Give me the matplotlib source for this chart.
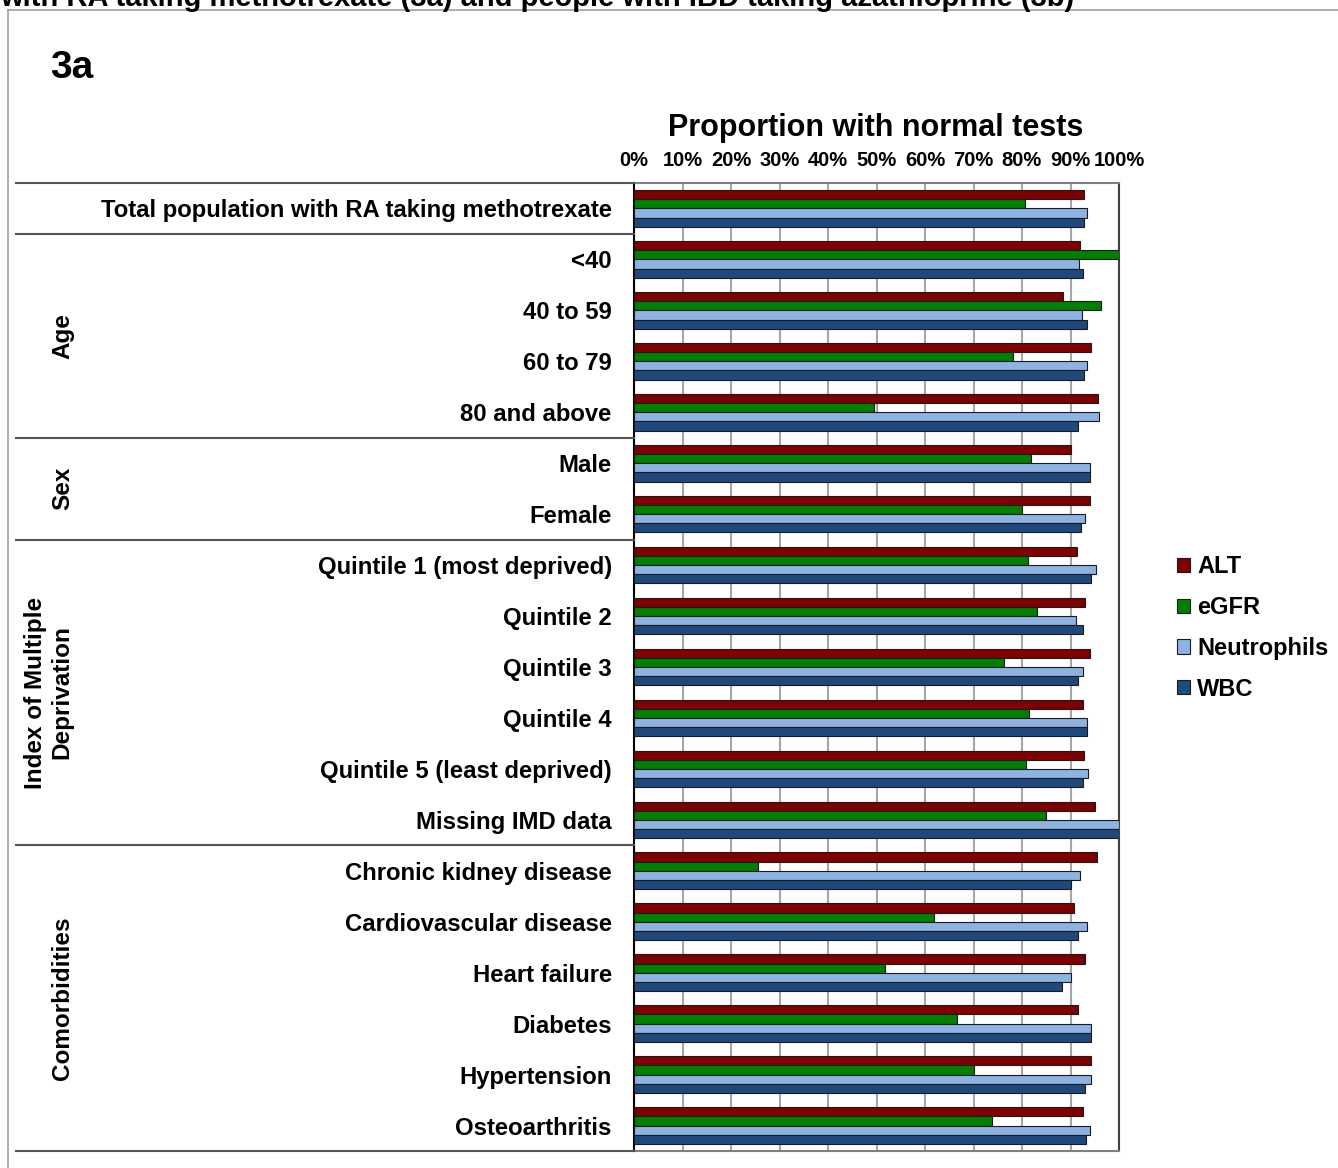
import matplotlib as mpl
mpl.use('Agg')
import matplotlib.pyplot as plt
import numpy as np
from matplotlib.lines import Line2D
from matplotlib.patches import Patch
from matplotlib.transforms import blended_transform_factory

plt.rcParams['font.family'] = ['Liberation Sans', 'DejaVu Sans']
plt.rcParams['font.weight'] = 'bold'

categories = ['Total population with RA taking methotrexate',
              '<40', '40 to 59', '60 to 79', '80 and above',
              'Male', 'Female',
              'Quintile 1 (most deprived)', 'Quintile 2', 'Quintile 3',
              'Quintile 4', 'Quintile 5 (least deprived)', 'Missing IMD data',
              'Chronic kidney disease', 'Cardiovascular disease', 'Heart failure',
              'Diabetes', 'Hypertension', 'Osteoarthritis']

# proportion with normal tests (%)
alt = [92.8, 92.0, 88.5, 94.3, 95.7, 90.1, 94.0, 91.3, 92.9, 94.0,
       92.5, 92.8, 95.0, 95.4, 90.7, 93.0, 91.5, 94.3, 92.5]
egfr = [80.6, 100.0, 96.2, 78.1, 49.4, 81.8, 79.9, 81.3, 83.1, 76.2,
        81.5, 80.8, 85.0, 25.5, 61.8, 51.8, 66.7, 70.1, 73.8]
neutrophils = [93.3, 91.8, 92.4, 93.3, 95.8, 94.0, 92.9, 95.3, 91.2, 92.6,
               93.4, 93.7, 100.0, 91.9, 93.5, 90.0, 94.2, 94.2, 94.1]
wbc = [92.8, 92.5, 93.5, 92.8, 91.6, 94.1, 92.1, 94.3, 92.6, 91.5,
       93.3, 92.6, 100.0, 90.0, 91.5, 88.2, 94.2, 92.9, 93.1]

series_names = ['ALT', 'eGFR', 'Neutrophils', 'WBC']
colors = ['#7f0000', '#008000', '#8db3e2', '#1f497d']

# groups: (label, first row, last row)
groups = [('Age', 1, 4), ('Sex', 5, 6),
          ('Index of Multiple\nDeprivation', 7, 12), ('Comorbidities', 13, 18)]
boundaries = [-0.5, 0.5, 4.5, 6.5, 12.5, 18.5]

W, H = 1338, 1168
fig = plt.figure(figsize=(W / 100, H / 100), dpi=100)
ax = fig.add_axes([634 / W, 1 - 1151 / H, 485 / W, 968 / H])

y = np.arange(len(categories))
bh = 0.18
for i, (vals, c) in enumerate(zip([alt, egfr, neutrophils, wbc], colors)):
    ax.barh(y + (i - 1.5) * bh, vals, height=bh, color=c,
            edgecolor='#1a1a1a', linewidth=0.8, zorder=3)

ax.set_xlim(0, 100)
ax.set_ylim(len(categories) - 0.5, -0.5)
ax.set_xticks(np.arange(0, 101, 10))
ax.set_xticklabels([f'{v}%' for v in range(0, 101, 10)], fontsize=14.5, fontweight='bold')
ax.xaxis.tick_top()
ax.tick_params(axis='x', length=0, pad=9)
ax.set_yticks(y)
ax.set_yticklabels(categories, fontsize=17.2, fontweight='bold')
ax.tick_params(axis='y', length=0, pad=16)
ax.grid(axis='x', color='#a6a6a6', linewidth=1.5, zorder=0)
for s in ['top', 'bottom']:
    ax.spines[s].set_color('#808080')
    ax.spines[s].set_linewidth(1.5)
ax.spines['right'].set_color('#404040')
ax.spines['right'].set_linewidth(1.5)
ax.spines['left'].set_color('#000000')
ax.spines['left'].set_linewidth(1.5)

# table lines and group labels on the left
tr = blended_transform_factory(fig.transFigure, ax.transData)
for b in boundaries:
    fig.add_artist(Line2D([16 / W, 634 / W], [b, b], transform=tr,
                          color='#555555', linewidth=1.5, clip_on=False))
for label, a, b in groups:
    xpos = 49 / W if '\n' in label else 63 / W
    fig.text(xpos, (a + b) / 2, label, transform=tr, rotation=90,
             ha='center', va='center', fontsize=17.5, fontweight='bold',
             family=['Liberation Sans', 'DejaVu Sans'])

# outer frame
fig.add_artist(Line2D([8 / W, 1], [1 - 10 / H, 1 - 10 / H], color='#a0a0a0', linewidth=1.2))
fig.add_artist(Line2D([8 / W, 8 / W], [0, 1 - 10 / H], color='#a0a0a0', linewidth=1.2))

fig.text(0, 1 - 6 / H, 'with RA taking methotrexate (3a) and people with IBD taking azathioprine (3b)',
         fontsize=21, fontweight='bold', va='baseline', ha='left')
fig.text(50 / W, 1 - 78 / H, '3a', fontsize=28, fontweight='bold', va='baseline')
fig.text(876 / W, 1 - 136 / H, 'Proportion with normal tests', fontsize=22,
         fontweight='bold', ha='center', va='baseline')

handles = [Patch(facecolor=c, edgecolor='#1a1a1a', linewidth=0.8) for c in colors]
fig.legend(handles, series_names, loc='center left', bbox_to_anchor=(1177 / W, 1 - 628 / H),
           frameon=False, borderpad=0, borderaxespad=0, handlelength=0.55, handleheight=0.55,
           handletextpad=0.3, labelspacing=0.75, prop={'size': 17, 'weight': 'bold'})

plt.savefig('out.png', format='png')
